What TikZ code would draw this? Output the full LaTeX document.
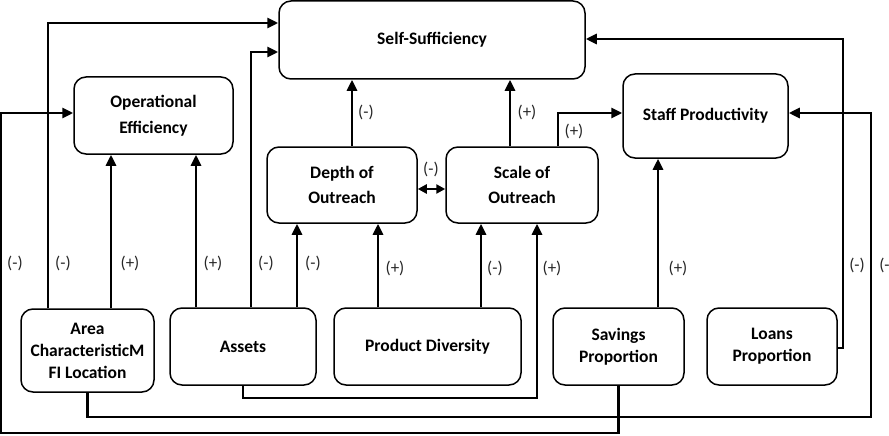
\documentclass[tikz,border=0pt]{standalone}
\usepackage{fontspec}
\setmainfont{Carlito}
\usetikzlibrary{arrows.meta}
\tikzset{
  box/.style={draw, line width=1.5pt, rounded corners=12pt, align=center,
    inner sep=0pt, font=\fontsize{17.5}{22}\selectfont\bfseries},
  arr/.style={line width=2.7pt, -{Triangle[length=11pt,width=10pt]}},
  dbl/.style={line width=2.7pt, {Triangle[length=9pt,width=9pt]}-{Triangle[length=9pt,width=9pt]}},
  lab/.style={font=\fontsize{17}{19}\selectfont, inner sep=0pt, text=black!85}
}
\begin{document}
\begin{tikzpicture}[x=1pt,y=-1pt]
\useasboundingbox (0,0) rectangle (889,436);
% boxes
\node[box, minimum width=306pt, minimum height=78pt] (ss) at (432,40) {Self-Sufficiency};
\node[box, minimum width=159pt, minimum height=77pt, font=\fontsize{17.5}{26}\selectfont\bfseries] (oe) at (153.5,115.5) {Operational\\Efficiency};
\node[box, minimum width=165pt, minimum height=84pt] (sp) at (705.5,116) {Staff Productivity};
\node[box, minimum width=150pt, minimum height=76pt, font=\fontsize{17.5}{25}\selectfont\bfseries] (dep) at (342,185) {Depth of\\Outreach};
\node[box, minimum width=152pt, minimum height=76pt, font=\fontsize{17.5}{25}\selectfont\bfseries] (sca) at (522,185) {Scale of\\Outreach};
\node[box, minimum width=133pt, minimum height=83pt] (area) at (87.5,350.5) {Area\\CharacteristicM\\FI Location};
\node[box, minimum width=146pt, minimum height=77pt] (ass) at (243,346.5) {Assets};
\node[box, minimum width=187pt, minimum height=77pt] (pd) at (427.5,346.5) {Product Diversity};
\node[box, minimum width=131pt, minimum height=77pt] (sav) at (618.5,346.5) {Savings\\Proportion};
\node[box, minimum width=130pt, minimum height=77pt] (loa) at (772,346.5) {Loans\\Proportion};
% helper coordinates
\coordinate (X1) at (1,0);
\coordinate (X48) at (48,0);
\coordinate (X111) at (111,0);
\coordinate (X196) at (196,0);
\coordinate (X251) at (251,0);
\coordinate (X297) at (297,0);
\coordinate (X352) at (352,0);
\coordinate (X378) at (378,0);
\coordinate (X481) at (481,0);
\coordinate (X510) at (510,0);
\coordinate (X537) at (537,0);
\coordinate (X558) at (558,0);
\coordinate (X658) at (658,0);
\coordinate (X843) at (843,0);
\coordinate (X871) at (871,0);
\coordinate (Y23) at (0,23);
\coordinate (Y39) at (0,39);
\coordinate (Y52) at (0,52);
\coordinate (Y113) at (0,113);
\coordinate (Y189) at (0,189);
\coordinate (Y348) at (0,348);
\coordinate (Y398) at (0,398);
\coordinate (Y417) at (0,417);
\coordinate (Y433) at (0,433);
% connectors
\draw[arr] (sav.south) |- (X1 |- Y433) |- (oe.west |- Y113);
\draw[arr] (area.north -| X48) |- (ss.west |- Y23);
\draw[arr] (area.north -| X111) -- (oe.south -| X111);
\draw[arr] (ass.north -| X196) -- (oe.south -| X196);
\draw[arr] (ass.north -| X251) |- (ss.west |- Y52);
\draw[arr] (ass.north -| X297) -- (dep.south -| X297);
\draw[arr] (pd.north -| X378) -- (dep.south -| X378);
\draw[arr] (pd.north -| X481) -- (sca.south -| X481);
\draw[arr] (ass.south) |- (X537 |- Y398) -- (sca.south -| X537);
\draw[arr] (sav.north -| X658) -- (sp.south -| X658);
\draw[arr] (dep.north -| X352) -- (ss.south -| X352);
\draw[arr] (sca.north -| X510) -- (ss.south -| X510);
\draw[arr] (sca.north -| X558) |- (sp.west |- Y113);
\draw[dbl] (dep.east |- Y189) -- (sca.west |- Y189);
\draw[arr] (loa.east |- Y348) -| (X843 |- Y39) -- (ss.east |- Y39);
\draw[arr] (area.south) |- (X871 |- Y417) |- (sp.east |- Y113);
% labels
\node[lab] (l1) at (15,263) {(-)};
\node[lab] (l2) at (63,263) {(-)};
\node[lab] (l3) at (130,263) {(+)};
\node[lab] (l4) at (213,263) {(+)};
\node[lab] (l5) at (266,263) {(-)};
\node[lab] (l6) at (313,263) {(-)};
\node[lab] (l7) at (395,268) {(+)};
\node[lab] (l8) at (495,268) {(-)};
\node[lab] (l9) at (552,268) {(+)};
\node[lab] (l10) at (678,268) {(+)};
\node[lab] (l11) at (857,265) {(-)};
\node[lab] (l12) at (887,265) {(-)};
\node[lab] (l13) at (366,112) {(-)};
\node[lab] (l14) at (527,112) {(+)};
\node[lab] (l15) at (574,131) {(+)};
\node[lab] (l16) at (431,169) {(-)};
\end{tikzpicture}
\end{document}
